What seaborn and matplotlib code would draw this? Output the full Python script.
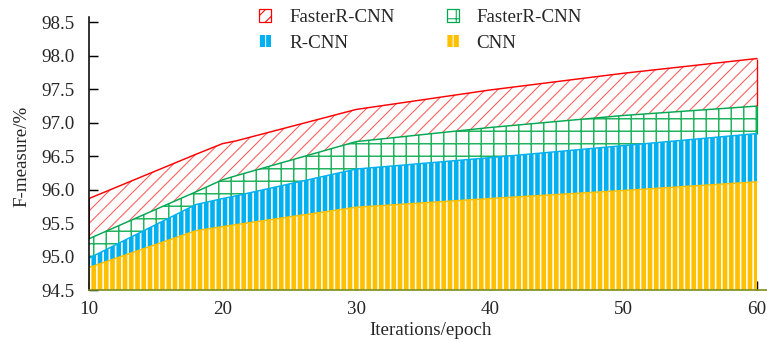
import numpy as np
import pandas as pd
import matplotlib
matplotlib.use("Agg")
import matplotlib.pyplot as plt
import matplotlib.patches as mpatches
import seaborn as sns

# ---- data ----
epochs = [10, 18, 20, 21, 30, 40, 50, 60]
faster_rcnn_top = [95.87, 96.53, 96.69, 96.73, 97.20, 97.49, 97.74, 97.96]
faster_rcnn_mid = [95.27, 95.97, 96.15, 96.21, 96.72, 96.93, 97.11, 97.25]
rcnn = [94.98, 95.78, 95.87, 95.91, 96.31, 96.48, 96.66, 96.84]
cnn = [94.84, 95.39, 95.45, 95.48, 95.74, 95.87, 95.99, 96.12]

series_labels = ["FasterR-CNN", "FasterR-CNN", "R-CNN", "CNN"]
x_ticks = [10, 20, 30, 40, 50, 60]
y_ticks = [94.5, 95.0, 95.5, 96.0, 96.5, 97.0, 97.5, 98.0, 98.5]
x_label = "Iterations/epoch"
y_label = "F-measure/%"

RED = "#FF0000"
GREEN = "#00A84F"
BLUE = "#00B0F0"
YELLOW = "#FFC000"

DPI = 75
W, H = 767, 343

sns.set_style("ticks")
plt.rcParams["font.family"] = ["Liberation Serif", "DejaVu Serif"]
FS = 19 * 72 / DPI  # 19 px font
plt.rcParams["font.size"] = FS

fig = plt.figure(figsize=(W / DPI, H / DPI), dpi=DPI)
ax = fig.add_axes([89 / W, 52.7 / H, (W - 89) / W, (290.3 - 17) / H])

df = pd.DataFrame({
    "epoch": epochs,
    "top": faster_rcnn_top,
    "mid": faster_rcnn_mid,
    "rcnn": rcnn,
    "cnn": cnn,
})

base = [y_ticks[0]] * len(epochs)


def hatch_fill(lower, upper, face, edge, hatch, hlw, lw, z):
    with plt.rc_context({"hatch.linewidth": hlw}):
        coll = ax.fill_between(df["epoch"], lower, upper, facecolor=face,
                               edgecolor=edge, hatch=hatch, linewidth=lw,
                               zorder=z)
    if hasattr(coll, "set_hatch_linewidth"):
        coll.set_hatch_linewidth(hlw)
    return coll


hatch_fill(base, df["cnn"], YELLOW, "white", "||", 1.5, 0, 1)
hatch_fill(df["cnn"], df["rcnn"], BLUE, "white", "||", 1.6, 0, 1)
hatch_fill(df["rcnn"], df["mid"], "white", "#22B35E", "+", 1.45, 0, 1)
hatch_fill(df["mid"], df["top"], "white", "#FF5A5A", "//", 1.0, 0, 1)

# top edges of each band
for col, c in [("cnn", YELLOW), ("rcnn", BLUE), ("mid", GREEN), ("top", RED)]:
    sns.lineplot(data=df, x="epoch", y=col, color=c, linewidth=1.4,
                 ax=ax, zorder=3, legend=False)

# end edges of the bands
ax.vlines(df["epoch"].iloc[-1], df["mid"].iloc[-1], df["top"].iloc[-1],
          color=RED, linewidth=1.3, zorder=3)
ax.vlines(df["epoch"].iloc[-1], df["rcnn"].iloc[-1], df["mid"].iloc[-1],
          color=GREEN, linewidth=1.2, zorder=3)
ax.vlines(df["epoch"].iloc[0], df["mid"].iloc[0], df["top"].iloc[0],
          color="#B00000", linewidth=1.6, zorder=4)

ax.set_xlim(10, 10 + (W - 89) / 13.36)
ax.set_ylim(94.5, 98.58)
ax.set_xticks(x_ticks)
ax.set_xticklabels([str(v) for v in x_ticks])
ax.set_yticks(y_ticks)
ax.set_yticklabels([f"{v:.1f}" for v in y_ticks])

for s in ["top", "right"]:
    ax.spines[s].set_visible(False)
ax.spines["left"].set_color("black")
ax.spines["left"].set_linewidth(1.5)
ax.spines["bottom"].set_color("#7E8C1E")
ax.spines["bottom"].set_linewidth(1.6)
ax.spines["left"].set_zorder(5)
ax.spines["bottom"].set_zorder(5)

ax.tick_params(axis="y", direction="in", length=9 * 72 / DPI,
               width=1.4, pad=14 * 72 / DPI, labelsize=FS, color="black")
ax.tick_params(axis="x", direction="in", length=9 * 72 / DPI,
               width=1.4, pad=11 * 72 / DPI, labelsize=FS, color="black")

ax.set_xlabel(x_label, fontsize=FS)
ax.set_ylabel(y_label, fontsize=FS)
ax.xaxis.set_label_coords(0.503, -0.116)
ax.yaxis.set_label_coords(-0.086, 0.49)

# legend
with plt.rc_context({"hatch.linewidth": 1.0}):
    h_red = mpatches.Patch(facecolor="white", edgecolor=RED, hatch="//", linewidth=1.2)
    h_green = mpatches.Patch(facecolor="white", edgecolor=GREEN, hatch="+", linewidth=1.2)
    h_blue = mpatches.Patch(facecolor=BLUE, edgecolor="white", hatch="||", linewidth=0)
    h_yellow = mpatches.Patch(facecolor=YELLOW, edgecolor="white", hatch="||", linewidth=0)
handles = [h_red, h_blue, h_green, h_yellow]
labels = [series_labels[0], series_labels[2], series_labels[1], series_labels[3]]
fig.legend(handles, labels, ncol=2, loc="upper left",
           bbox_to_anchor=(259 / W, 1 - 9 / H), frameon=False,
           borderpad=0, borderaxespad=0, handlelength=12 / 19,
           handleheight=12 / 19, handletextpad=18 / 19,
           columnspacing=2.75, labelspacing=0.45, fontsize=FS)

fig.savefig("out.png", dpi=DPI)
